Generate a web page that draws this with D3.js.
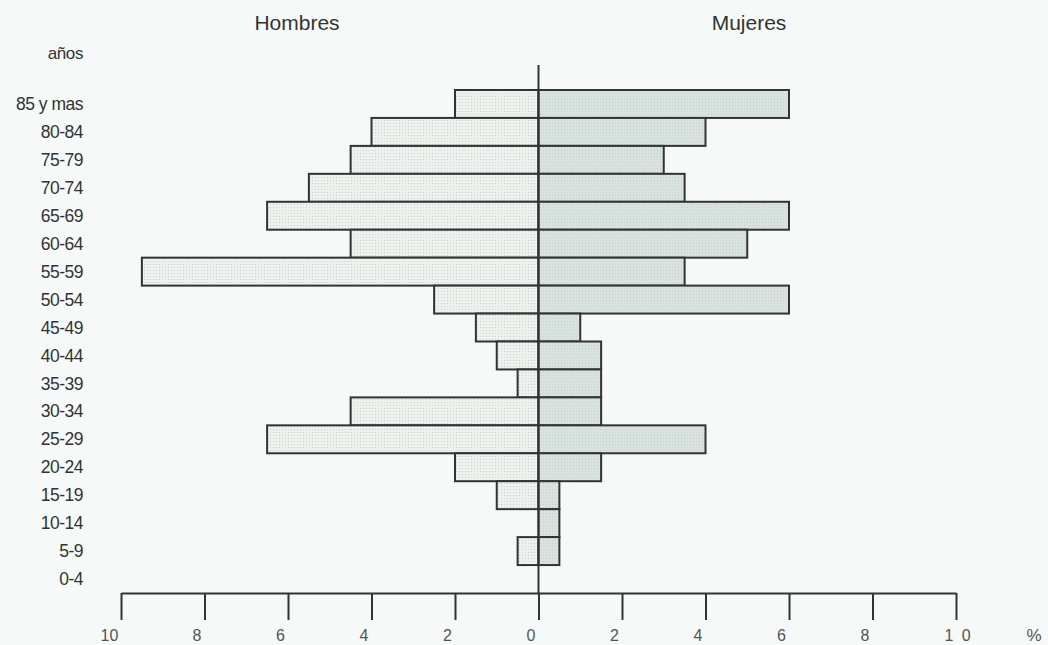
<!DOCTYPE html>
<html>
<head>
<meta charset="utf-8">
<script src="https://cdn.jsdelivr.net/npm/d3@7"></script>
<style>
  html, body { margin: 0; padding: 0; background: #f5faf8; }
  svg { display: block; font-family: Arial, "Liberation Sans", sans-serif; }
</style>
</head>
<body>
<svg id="viz" width="1048" height="645"></svg>
<script>
// age groups, top to bottom
const ageGroups = ['85 y mas', '80-84', '75-79', '70-74', '65-69', '60-64', '55-59', '50-54',
  '45-49', '40-44', '35-39', '30-34', '25-29', '20-24', '15-19', '10-14', '5-9', '0-4'];
// percentages
const hombres = [2, 4, 4.5, 5.5, 6.5, 4.5, 9.5, 2.5, 1.5, 1, 0.5, 4.5, 6.5, 2, 1, 0, 0.5, 0];
const mujeres = [6, 4, 3, 3.5, 6, 5, 3.5, 6, 1, 1.5, 1.5, 1.5, 4, 1.5, 0.5, 0.5, 0.5, 0];
const tickValues = [-10, -8, -6, -4, -2, 0, 2, 4, 6, 8, 10];
const tickLabels = ['10', '8', '6', '4', '2', '0', '2', '4', '6', '8', '1 0'];

const svg = d3.select('#viz');
const ink = '#333';

const x = d3.scaleLinear().domain([-10, 10]).range([121, 956]);
const y = d3.scaleBand().domain(ageGroups).range([90, 593]).padding(0);

// dotted fills
const defs = svg.append('defs');
const pm = defs.append('pattern').attr('id', 'dotsM').attr('patternUnits', 'userSpaceOnUse')
  .attr('width', 3).attr('height', 3);
pm.append('rect').attr('width', 3).attr('height', 3).attr('fill', '#edf2ef');
pm.append('rect').attr('width', 1).attr('height', 1).attr('fill', '#cbd3cf');
const pw = defs.append('pattern').attr('id', 'dotsW').attr('patternUnits', 'userSpaceOnUse')
  .attr('width', 3).attr('height', 3);
pw.append('rect').attr('width', 3).attr('height', 3).attr('fill', '#d8e3df');
pw.append('rect').attr('width', 1).attr('height', 1).attr('fill', '#c6d2ce');

const rows = ageGroups.map((g, i) => ({ g, h: hombres[i], m: mujeres[i] }));

// Hombres bars (left)
svg.append('g').selectAll('rect')
  .data(rows.filter((d) => d.h > 0))
  .join('rect')
  .attr('x', (d) => x(-d.h))
  .attr('y', (d) => y(d.g))
  .attr('width', (d) => x(0) - x(-d.h))
  .attr('height', y.bandwidth())
  .attr('fill', 'url(#dotsM)')
  .attr('stroke', ink)
  .attr('stroke-width', 2);

// Mujeres bars (right)
svg.append('g').selectAll('rect')
  .data(rows.filter((d) => d.m > 0))
  .join('rect')
  .attr('x', x(0))
  .attr('y', (d) => y(d.g))
  .attr('width', (d) => x(d.m) - x(0))
  .attr('height', y.bandwidth())
  .attr('fill', 'url(#dotsW)')
  .attr('stroke', ink)
  .attr('stroke-width', 2);

// center line
svg.append('line')
  .attr('x1', x(0)).attr('x2', x(0))
  .attr('y1', 65).attr('y2', 593)
  .attr('stroke', ink).attr('stroke-width', 2);

// bottom axis
const axis = d3.axisBottom(x)
  .tickValues(tickValues)
  .tickSize(27)
  .tickSizeOuter(0)
  .tickPadding(10)
  .tickFormat((d, i) => tickLabels[i]);
const ax = svg.append('g').attr('transform', 'translate(0,593)').call(axis);
ax.select('.domain').attr('stroke', ink).attr('stroke-width', 2);
ax.selectAll('.tick line').attr('stroke', ink).attr('stroke-width', 2);
ax.selectAll('.tick text')
  .attr('font-size', 16).attr('fill', '#555')
  .attr('font-family', 'Arial, "Liberation Sans", sans-serif')
  .attr('dx', (d) => (d === 10 ? 2 : d === -10 ? -12 : -8))
  .attr('letter-spacing', (d) => (d === 10 ? '2px' : null));

svg.append('text').attr('x', 1034).attr('y', 641)
  .attr('text-anchor', 'middle').attr('font-size', 17).attr('fill', '#555').text('%');

// age labels
svg.append('g').selectAll('text')
  .data(ageGroups)
  .join('text')
  .attr('x', 83)
  .attr('y', (d) => y(d) + y.bandwidth() / 2)
  .attr('dy', '0.35em')
  .attr('text-anchor', 'end')
  .attr('font-size', 17.5)
  .attr('letter-spacing', '-0.5px')
  .attr('fill', '#333')
  .text((d) => d);

svg.append('text').attr('x', 83).attr('y', 59)
  .attr('text-anchor', 'end').attr('font-size', 17).attr('letter-spacing', '-0.4px')
  .attr('fill', '#333').text('años');

svg.append('text').attr('x', 297).attr('y', 30)
  .attr('text-anchor', 'middle').attr('font-size', 21).attr('fill', '#333').text('Hombres');
svg.append('text').attr('x', 749).attr('y', 30)
  .attr('text-anchor', 'middle').attr('font-size', 21).attr('fill', '#333').text('Mujeres');
</script>
</body>
</html>
